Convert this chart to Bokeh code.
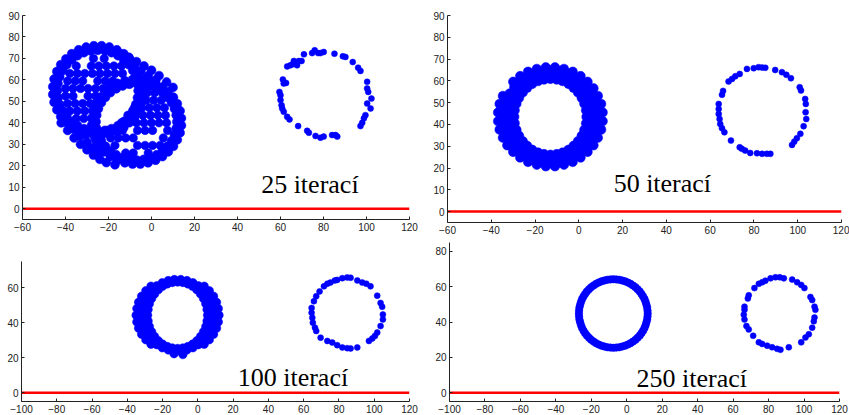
from bokeh.plotting import figure
from bokeh.layouts import column, row
from bokeh.models import Range1d, FixedTicker
from bokeh.embed import file_html
from bokeh.resources import INLINE
from bokeh.core.properties import value

# ---------------- data ----------------
# Panel "25 iterací": back ring (upper-left), front ring (lower-right), sides, interior, small ring
p25_back_a = [(-6.2,55),(-6.5,58.3),(-7.3,61.4),(-8.7,64.4),(-10.6,67.1),(-12.9,69.4),(-15.6,71.3),(-18.6,72.7),(-21.7,73.5),(-25,73.8),
              (-28.3,73.5),(-31.4,72.7),(-34.4,71.3),(-37.1,69.4),(-39.4,67.1),(-41.3,64.4),(-42.7,61.4),(-43.5,58.3),(-43.8,55),
              (-43.5,51.7),(-42.7,48.6),(-41.3,45.6),(-39.4,42.9),(-37.1,40.6),(-34.4,38.7),(-31.4,37.3),(-28.3,36.5),(-25,36.2),
              (-21.7,36.5),(-18.6,37.3),(-15.6,38.7),(-12.9,40.6),(-10.6,42.9),(-8.7,45.6),(-7.3,48.6),(-6.5,51.7)]
p25_back_b = [(-4.1,56.8),(-4.7,60.4),(-6.0,63.9),(-7.8,67.1),(-10.2,69.8),(-12.9,72.2),(-16.1,74.0),(-19.6,75.3),(-23.2,75.9),
              (-26.8,75.9),(-30.4,75.3),(-33.9,74.0),(-37.1,72.2),(-39.8,69.8),(-42.2,67.1),(-44.0,63.9),(-45.3,60.4),(-45.9,56.8),
              (-45.9,53.2),(-45.3,49.6),(-44.0,46.1),(-42.2,42.9),(-39.8,40.2),(-37.1,37.8),(-33.9,36.0),(-30.4,34.7),(-26.8,34.1),
              (-23.2,34.1),(-19.6,34.7),(-16.1,36.0),(-12.9,37.8),(-10.2,40.2),(-7.8,42.9),(-6.0,46.1),(-4.7,49.6),(-4.1,53.2)]
p25_front_a = [(11.8,40.5),(11.5,43.6),(10.7,46.6),(9.3,49.4),(7.4,51.9),(5.1,54.1),(2.4,55.9),(-0.6,57.2),(-3.7,58.0),(-7.0,58.3),
               (-10.3,58.0),(-13.4,57.2),(-16.4,55.9),(-19.1,54.1),(-21.4,51.9),(-23.3,49.4),(-24.7,46.6),(-25.5,43.6),(-25.8,40.5),
               (-25.5,37.4),(-24.7,34.4),(-23.3,31.6),(-21.4,29.1),(-19.1,26.9),(-16.4,25.1),(-13.4,23.8),(-10.3,23.0),(-7.0,22.7),
               (-3.7,23.0),(-0.6,23.8),(2.4,25.1),(5.1,26.9),(7.4,29.1),(9.3,31.6),(10.7,34.4),(11.5,37.4)]
p25_front_b = [(13.9,42.2),(13.3,45.6),(12.0,48.9),(10.2,51.9),(7.8,54.5),(5.1,56.7),(1.9,58.4),(-1.6,59.6),(-5.2,60.2),(-8.8,60.2),
               (-12.4,59.6),(-15.9,58.4),(-19.1,56.7),(-21.8,54.5),(-24.2,51.9),(-26.0,48.9),(-27.3,45.6),(-27.9,42.2),(-27.9,38.8),
               (-27.3,35.4),(-26.0,32.1),(-24.2,29.1),(-21.8,26.5),(-19.1,24.3),(-15.9,22.6),(-12.4,21.4),(-8.8,20.8),(-5.2,20.8),
               (-1.6,21.4),(1.9,22.6),(5.1,24.3),(7.8,26.5),(10.2,29.1),(12.0,32.1),(13.3,35.4),(13.9,38.8)]
p25_sides = [(-14,72),(-10.5,70.5),(-7,68.5),(-3.5,66.5),(0,64.5),(3.5,62),(7,59),(10,56.5),(-5,64),(-1.5,62),(2,60),
             (-9,67),(-12.5,68.5),(-42,40),(-39,36.5),(-36,33),(-33,30),(-30,27.5),(-27,25),(-24,23),(-21,21.5),
             (-36,37),(-33,34),(-30,31),(-27,28.5),(-24,26.5),(-17,20.5)]
p25_fill_back = [(-27,70),(-22,70),(-35,66.5),(-28,66.5),(-24.5,66.5),(-21,66.5),(-17.5,66.5),(-14,66.5),
                 (-38,63),(-34.5,63),(-31,63),(-27.5,63),(-24,63),(-20.5,63),(-17,63),(-13.5,63),
                 (-39,59.5),(-35.5,59.5),(-32,59.5),(-25,59.5),(-21.5,59.5),(-18,59.5),
                 (-40,56),(-36.5,56),(-33,56),(-29.5,56),(-26,56),(-22.5,56),
                 (-40,52.5),(-36.5,52.5),(-29.5,52.5),(-26,52.5),
                 (-39,49),(-35.5,49),(-32,49),(-28.5,49),(-38,45.5),(-34.5,45.5),(-31,45.5),(-35,42),(-31.5,42)]
p25_fill_front = [(-5.5,54),(-2,54),(1.5,54),(-6,50.5),(-2.5,50.5),(1,50.5),(4.5,50.5),
                  (-8,47),(-4.5,47),(-1,47),(2.5,47),(6,47),
                  (-11,43.5),(-7.5,43.5),(-4,43.5),(-0.5,43.5),(3,43.5),(6.5,43.5),
                  (-14,40),(-10.5,40),(-7,40),(-3.5,40),(0,40),(3.5,40),(7,40),
                  (-20.5,36.5),(-17,36.5),(-13.5,36.5),(-6.5,36.5),(-3,36.5),(0.5,36.5),(7.5,36.5),
                  (-19,33),(-15.5,33),(-12,33),(-8.5,33),(5.5,33),
                  (-17,29.5),(-6.5,29.5),(-3,29.5),(0.5,29.5),(4,29.5),
                  (-12,26),(-8.5,26),(-1.5,26)]
p25_small = [(75.9,73.8),(74.7,72.5),(77.5,72.5),(80.1,73.0),(78.6,72.5),(70.9,71.9),(85.1,72.2),(89.0,71.0),(90.2,70.7),
             (93.6,68.3),(96.1,65.7),(97.2,64.2),(100.3,59.1),(100.3,56.0),(100.8,54.4),(102.3,51.3),(100.3,49.0),(101.9,46.7),
             (99.5,43.6),(98.8,42.1),(98.0,40.0),(97.2,38.5),(85.6,34.3),(86.4,33.6),(84.0,34.3),(80.1,33.6),(78.6,33.1),
             (76.3,33.9),(73.2,35.4),(72.4,36.3),(68.2,38.5),(64.2,41.6),(63.1,42.8),(61.5,45.2),(60.8,46.7),(60.5,48.2),
             (60.0,50.6),(60.0,52.9),(59.5,54.4),(61.5,58.3),(61.1,60.2),(62.6,58.6),(63.1,66.3),(64.6,66.8),(65.7,67.3),
             (67.0,67.9),(68.5,68.8),(69.8,68.8),(67.7,66.8),(66.2,68.8)]

# Panel "50 iterací": thick ring (4 rows) and small ring
p50_ring1 = [(3.5,43.5),(3.3,46.5),(2.5,49.5),(1.3,52.2),(-0.4,54.7),(-2.4,56.8),(-4.7,58.6),(-7.4,59.9),(-10.1,60.6),(-13.0,60.9),
             (-15.9,60.6),(-18.6,59.9),(-21.3,58.6),(-23.6,56.8),(-25.6,54.7),(-27.3,52.2),(-28.5,49.5),(-29.3,46.5),(-29.5,43.5),
             (-29.3,40.5),(-28.5,37.5),(-27.3,34.8),(-25.6,32.3),(-23.6,30.2),(-21.3,28.4),(-18.6,27.1),(-15.9,26.4),(-13.0,26.1),
             (-10.1,26.4),(-7.4,27.1),(-4.7,28.4),(-2.4,30.2),(-0.4,32.3),(1.3,34.8),(2.5,37.5),(3.3,40.5)]
p50_ring2 = [(5.9,45.2),(5.4,48.6),(4.2,51.7),(2.6,54.7),(0.4,57.3),(-2.1,59.5),(-5.0,61.2),(-8.1,62.3),(-11.3,62.9),(-14.7,62.9),
             (-17.9,62.3),(-21.0,61.2),(-23.9,59.5),(-26.4,57.3),(-28.6,54.7),(-30.2,51.7),(-31.4,48.6),(-31.9,45.2),(-31.9,41.8),
             (-31.4,38.4),(-30.2,35.3),(-28.6,32.3),(-26.4,29.7),(-23.9,27.5),(-21.0,25.8),(-17.9,24.7),(-14.7,24.1),(-11.3,24.1),
             (-8.1,24.7),(-5.0,25.8),(-2.1,27.5),(0.4,29.7),(2.6,32.3),(4.2,35.3),(5.4,38.4),(5.9,41.8)]
p50_ring3 = [(8.5,43.5),(8.2,47.2),(7.2,50.8),(5.6,54.2),(3.5,57.2),(0.8,59.8),(-2.2,61.9),(-5.6,63.5),(-9.3,64.5),(-13.0,64.8),
             (-16.7,64.5),(-20.4,63.5),(-23.8,61.9),(-26.8,59.8),(-29.5,57.2),(-31.6,54.2),(-33.2,50.8),(-34.2,47.2),(-34.5,43.5),
             (-34.2,39.8),(-33.2,36.2),(-31.6,32.8),(-29.5,29.8),(-26.8,27.2),(-23.8,25.1),(-20.4,23.5),(-16.7,22.5),(-13.0,22.2),
             (-9.3,22.5),(-5.6,23.5),(-2.2,25.1),(0.8,27.2),(3.5,29.8),(5.6,32.8),(7.2,36.2),(8.2,39.8)]
p50_ring4 = [(10.9,45.5),(10.2,49.4),(8.7,53.1),(6.7,56.6),(4.0,59.6),(0.8,62.2),(-2.8,64.2),(-6.8,65.5),(-10.9,66.2),(-15.1,66.2),
             (-19.2,65.5),(-23.2,64.2),(-26.8,62.2),(-30.0,59.6),(-34.7,53.1),(-36.2,49.4),(-36.9,45.5),
             (-36.9,41.5),(-36.2,37.6),(-34.7,33.9),(-32.7,30.4),(-30.0,27.4),(-26.8,24.8),(-23.2,22.8),(-19.2,21.5),(-15.1,20.8),
             (-10.9,20.8),(-6.8,21.5),(-2.8,22.8),(0.8,24.8),(4.0,27.4),(6.7,30.4),(8.7,33.9),(10.2,37.6),(10.9,41.5)]
p50_small = [(76.8,65.5),(79.9,65.8),(82.1,66.3),(83.7,66.1),(85.2,66.0),(89.7,65.0),(92.8,64.0),(94.8,62.8),(96.9,61.2),
             (100.9,57.1),(101.5,55.6),(103.4,51.7),(103.7,49.4),(103.6,45.6),(103.9,42.5),(102.7,39.2),(101.2,35.7),(99.6,33.7),
             (98.4,32.1),(97.4,30.6),(87.5,26.5),(85.9,26.5),(83.7,26.5),(81.4,26.8),(78.3,26.9),(76.0,28.0),(74.5,28.8),
             (73.5,29.5),(69.5,32.6),(66.5,36.4),(65.4,38.3),(64.6,40.2),(64.3,42.5),(63.9,44.8),(63.9,47.1),(63.9,49.4),
             (65.4,53.6),(65.9,55.4),(68.4,59.7),(70.0,60.9),(71.5,62.1),(73.5,63.2)]

# Panel "100 iterací": ring (3 rows) and small ring
p100_ring1 = [(5.5,44.3),(5.2,47.6),(4.5,50.8),(3.2,53.8),(1.5,56.5),(-0.6,58.9),(-3.0,60.8),(-5.7,62.2),(-8.5,63.0),(-11.5,63.3),
              (-14.5,63.0),(-17.3,62.2),(-20.0,60.8),(-22.4,58.9),(-24.5,56.5),(-26.2,53.8),(-27.5,50.8),(-28.2,47.6),(-28.5,44.3),
              (-28.2,41.0),(-27.5,37.8),(-26.2,34.8),(-24.5,32.1),(-22.4,29.7),(-20.0,27.8),(-17.3,26.4),(-14.5,25.6),(-11.5,25.3),
              (-8.5,25.6),(-5.7,26.4),(-3.0,27.8),(-0.6,29.7),(1.5,32.1),(3.2,34.8),(4.5,37.8),(5.2,41.0)]
p100_ring2 = [(8.9,46.1),(8.3,49.6),(7.1,53.0),(5.3,56.1),(3.0,58.8),(0.3,61.1),(-2.8,62.9),(-6.2,64.1),(-9.7,64.7),(-13.3,64.7),
              (-16.8,64.1),(-20.2,62.9),(-23.3,61.1),(-26.0,58.8),(-28.3,56.1),(-30.1,53.0),(-31.3,49.6),(-31.9,46.1),(-31.9,42.5),
              (-31.3,39.0),(-30.1,35.6),(-28.3,32.5),(-26.0,29.8),(-23.3,27.5),(-20.2,25.7),(-16.8,24.5),(-13.3,23.9),(-9.7,23.9),
              (-6.2,24.5),(-2.8,25.7),(0.3,27.5),(3.0,29.8),(5.3,32.5),(7.1,35.6),(8.3,39.0),(8.9,42.5)]
p100_ring3 = [(12.0,44.3),(11.6,48.1),(10.6,51.7),(8.9,55.2),(6.5,58.3),(3.6,60.9),
              (-26.6,60.9),(-29.5,58.3),(-31.9,55.2),(-33.6,51.7),(-34.6,48.1),(-35.0,44.3),
              (-34.6,40.5),(-33.6,36.9),(-31.9,33.4),(-29.5,30.3),(-26.6,27.7),
              (3.6,27.7),(6.5,30.3),(8.9,33.4),(10.6,36.9),(11.6,40.5),(-8.5,21.8),(-13.5,22.3)]
p100_small = [(79.0,64.5),(81.9,65.5),(84.7,65.9),(86.6,65.7),(90.4,64.2),(93.2,63.0),(95.5,62.3),(97.9,60.8),(101.7,55.5),
              (103.6,51.3),(104.5,49.1),(104.9,44.7),(104.9,41.9),(103.6,38.1),(101.7,34.4),(100.4,32.5),(98.9,31.0),(97.0,29.6),
              (90.4,25.9),(86.6,25.3),(84.7,25.5),(81.9,25.9),(79.0,27.2),(76.2,28.7),(73.4,29.6),(69.6,31.5),(67.1,35.3),
              (66.4,37.2),(65.2,40.0),(64.9,42.8),(64.5,45.7),(64.5,48.5),(65.8,52.3),(67.1,55.1),(69.0,57.9),(71.5,60.8),
              (73.4,62.3),(75.2,63.0),(77.7,64.2)]

# Panel "250 iterací": thin ring and small ring
p250_ring = [(11.8,44.8),(11.7,46.5),(11.5,48.2),(11.1,49.8),(10.6,51.4),(10.0,53.0),(9.2,54.5),(8.3,55.9),(7.3,57.3),(6.1,58.5),
             (4.9,59.7),(3.5,60.7),(2.1,61.6),(0.6,62.4),(-1.0,63.0),(-2.6,63.5),(-4.2,63.9),(-5.9,64.1),(-7.6,64.2),
             (-9.3,64.1),(-11.0,63.9),(-12.6,63.5),(-14.2,63.0),(-15.8,62.4),(-17.3,61.6),(-18.7,60.7),(-20.1,59.7),(-21.3,58.5),
             (-22.5,57.3),(-23.5,55.9),(-24.4,54.5),(-25.2,53.0),(-25.8,51.4),(-26.3,49.8),(-26.7,48.2),(-26.9,46.5),(-27.0,44.8),
             (-26.9,43.1),(-26.7,41.4),(-26.3,39.8),(-25.8,38.2),(-25.2,36.6),(-24.4,35.1),(-23.5,33.7),(-22.5,32.3),(-21.3,31.1),
             (-20.1,29.9),(-18.7,28.9),(-17.3,28.0),(-15.8,27.2),(-14.2,26.6),(-12.6,26.1),(-11.0,25.7),(-9.3,25.5),(-7.6,25.4),
             (-5.9,25.5),(-4.2,25.7),(-2.6,26.1),(-1.0,26.6),(0.6,27.2),(2.1,28.0),(3.5,28.9),(4.9,29.9),(6.1,31.1),
             (7.3,32.3),(8.3,33.7),(9.2,35.1),(10.0,36.6),(10.6,38.2),(11.1,39.8),(11.5,41.4),(11.7,43.1)]
p250_small = [(81.1,64.7),(83.9,65.3),(86.3,65.3),(88.6,64.7),(93.3,64.0),(96.1,62.5),(98.4,61.0),(100.2,59.2),(103.6,54.2),
              (104.6,52.4),(105.9,48.7),(106.4,46.9),(105.9,42.6),(105.5,40.4),(104.6,36.8),(102.7,33.1),(100.8,31.2),(98.4,28.5),
              (91.4,25.7),(86.7,24.3),(84.8,24.8),(82.0,25.7),(79.2,26.6),(76.4,27.6),(74.5,28.5),(71.3,32.2),(68.8,35.8),
              (67.5,37.7),(66.4,41.4),(66.0,44.1),(66.4,46.9),(66.4,48.7),(68.3,53.3),(68.8,55.1),(72.0,59.2),(74.5,61.6),
              (76.4,62.5),(78.2,63.4)]

labels = ["25 iterací", "50 iterací", "100 iterací", "250 iterací"]
label_x = [51.0, 15.9, 22.6, 5.5]
label_y = [11.1, 13.0, 8.9, 7.9]
ground_top_x = [-60, 120]
ground_bottom_x = [-100, 120]
ground_y = [0, 0]
xticks_top = [-60, -40, -20, 0, 20, 40, 60, 80, 100, 120]
xticks_bottom = [-100, -80, -60, -40, -20, 0, 20, 40, 60, 80, 100, 120]
yticks_top = [0, 10, 20, 30, 40, 50, 60, 70, 80, 90]
yticks_bottom = [0, 20, 40, 60, 80]

BLUE = "#0000ff"
AX = "#222222"


def make_panel(w, h, xr, yr, xticks, yticks, borders, clusters, idx, gx):
    left, right, top, bottom = borders
    p = figure(width=w, height=h, x_range=Range1d(*xr), y_range=Range1d(*yr),
               output_backend="svg", toolbar_location=None,
               min_border_left=left, min_border_right=right,
               min_border_top=top, min_border_bottom=bottom)
    try:
        p.frame_align = False
    except Exception:
        pass
    p.outline_line_color = None
    p.xgrid.visible = False
    p.ygrid.visible = False
    p.background_fill_color = "white"
    p.border_fill_color = "white"
    for ax in (p.xaxis[0], p.yaxis[0]):
        ax.major_tick_in = 3
        ax.major_tick_out = 0
        ax.minor_tick_in = 0
        ax.minor_tick_out = 0
        ax.axis_line_color = AX
        ax.major_tick_line_color = AX
        ax.major_label_text_font = "Liberation Sans"
        ax.major_label_text_font_size = "10px"
        ax.major_label_text_color = AX
        ax.major_label_standoff = 3
    p.xaxis.ticker = FixedTicker(ticks=xticks)
    p.yaxis.ticker = FixedTicker(ticks=yticks)
    p.line(gx, ground_y, line_color="red", line_width=2.5)
    for pts, size in clusters:
        xs = [q[0] for q in pts]
        ys = [q[1] for q in pts]
        p.scatter(xs, ys, size=size, marker="circle", fill_color=BLUE, line_color=BLUE, line_width=0.5)
    p.text(x=[label_x[idx]], y=[label_y[idx]], text=[labels[idx]],
           text_font=value("Liberation Serif"), text_font_size="26px",
           text_color="black", text_baseline="alphabetic", text_align="left")
    return p


p1 = make_panel(424, 240, (-60, 120), (-5, 90), xticks_top, yticks_top, (22, 15, 15, 21),
                [(p25_back_a, 9), (p25_back_b, 9), (p25_front_a, 9), (p25_front_b, 9),
                 (p25_sides, 9), (p25_fill_back, 8.5), (p25_fill_front, 8.5), (p25_small, 6)], 0, ground_top_x)
p2 = make_panel(425, 240, (-60, 120), (-5, 90), xticks_top, yticks_top, (23, 8, 15, 18),
                [(p50_ring1, 9.5), (p50_ring2, 9.5), (p50_ring3, 9.5), (p50_ring4, 9.5), (p50_small, 6)], 1, ground_top_x)
p3 = make_panel(424, 175, (-100, 120), (-5, 75), xticks_bottom, yticks_bottom[:4], (21, 15, 21, 12),
                [(p100_ring1, 8.5), (p100_ring2, 8.5), (p100_ring3, 8.5), (p100_small, 6)], 2, ground_bottom_x)
p4 = make_panel(425, 175, (-100, 120), (-5, 85), xticks_bottom, yticks_bottom, (25, 10, 2, 11),
                [(p250_ring, 7.5), (p250_small, 6)], 3, ground_bottom_x)

layout = column(row(p1, p2), row(p3, p4))
with open("out.html", "w", encoding="utf-8") as f:
    f.write(file_html(layout, INLINE))
